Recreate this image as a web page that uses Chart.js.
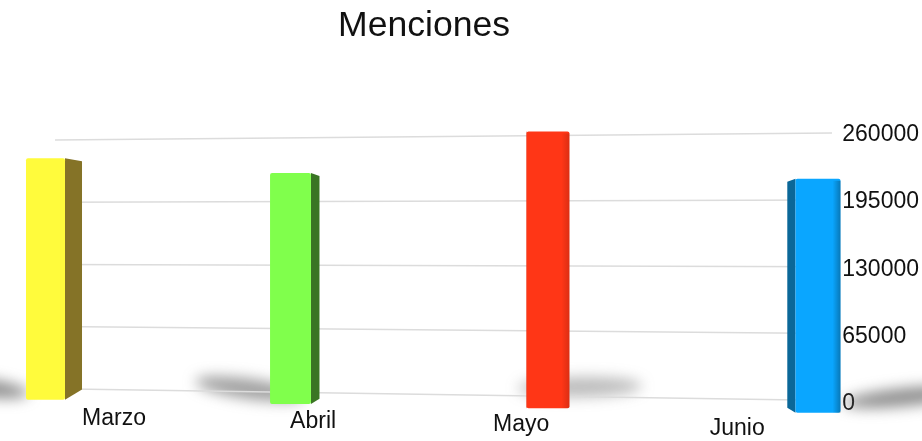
<!DOCTYPE html>
<html>
<head>
<meta charset="utf-8">
<title>Menciones</title>
<script src="https://cdn.jsdelivr.net/npm/chart.js@4"></script>
<style>
  html, body { margin: 0; padding: 0; background: #fff; }
  canvas { display: block; }
</style>
</head>
<body>
<canvas id="menciones-chart" width="922" height="441"></canvas>
<script>
const title = "Menciones";
const months = ["Marzo", "Abril", "Mayo", "Junio"];
const mentions = [240000, 224000, 262000, 216000];
const yTicks = [0, 65000, 130000, 195000, 260000];
const frontColors = ["#fffb3c", "#80ff4c", "#ff3616", "#0aa6ff"];
const sideColors = ["#857327", "#3a7524", "#c22a0f", "#0b6798"];
const edgeShade = [0, 0, 0.14, 0.28];

const fontFamily = "'Liberation Sans', Arial, sans-serif";
const textColor = "#111";
const labelNudge = [-1, -8, -6, 4];

// the original is a tilted 3D view, these fake its perspective
const wallTop = (x) => 140.5 - 0.009 * x;
const wallBottom = (x) => 388 + 0.015 * x;
const nearTop = (x) => 138.5 - 0.009 * x;
const nearBottom = (x) => 399 + 0.0168 * x;
const labelY = (x) => 416.5 + 0.0165 * x;

const valueShare = (scale, v) => (scale.bottom - scale.getPixelForValue(v)) / (scale.bottom - scale.top);

const perspective = {
  id: "perspective",
  afterDatasetsUpdate(chart) {
    const yScale = chart.scales.y;
    const xScale = chart.scales.x;
    const first = xScale.getPixelForValue(0);
    const band = xScale.getPixelForValue(1) - first;
    chart.getDatasetMeta(0).data.forEach((bar, i) => {
      const t = (bar.x - first) / band;
      const x = 45.5 + 245 * t + 6.25 * t * (t - 1);
      const share = valueShare(yScale, mentions[i]);
      bar.x = x;
      bar.width = 39 + (x - 45) * 0.0078;
      bar.base = nearBottom(x);
      bar.y = nearBottom(x) + (nearTop(x) - nearBottom(x)) * share;
    });
  },
  beforeDatasetsDraw(chart) {
    const { ctx, scales } = chart;
    const bars = chart.getDatasetMeta(0).data;

    // floor shadows
    ctx.save();
    ctx.filter = "blur(7px)";
    [
      [-15, 388, 44, 9, 0.12, 0.7],
      [250, 389, 55, 10, 0.14, 0.6],
      [580, 387, 62, 10, -0.02, 0.42],
      [905, 397, 62, 9, -0.1, 0.7],
    ].forEach(([cx, cy, rx, ry, rot, alpha]) => {
      ctx.fillStyle = `rgba(95,95,95,${alpha})`;
      ctx.beginPath();
      ctx.ellipse(cx, cy, rx, ry, rot, 0, Math.PI * 2);
      ctx.fill();
    });
    ctx.restore();

    // gridlines on the back wall
    ctx.save();
    ctx.strokeStyle = "#dcdcdc";
    ctx.lineWidth = 1.5;
    yTicks.forEach((v) => {
      const share = valueShare(scales.y, v);
      const lineY = (x) => wallBottom(x) + (wallTop(x) - wallBottom(x)) * share;
      ctx.beginPath();
      ctx.moveTo(55, lineY(55));
      ctx.lineTo(832, lineY(832));
      ctx.stroke();
    });
    ctx.restore();

    // side faces of the bars
    ctx.save();
    bars.forEach((bar, i) => {
      const left = bar.x - bar.width / 2;
      const right = bar.x + bar.width / 2;
      const depth = (558 - (bar.x < 558 ? right : left)) * 0.0345;
      const edge = depth >= 0 ? right : left;
      const far = edge + depth;
      const rise = Math.abs(depth) * 0.6;
      const drop = Math.min(3, Math.abs(depth));
      ctx.fillStyle = sideColors[i];
      ctx.beginPath();
      ctx.moveTo(edge, bar.y);
      ctx.lineTo(far, bar.y + drop);
      ctx.lineTo(far, bar.base - rise);
      ctx.lineTo(edge, bar.base);
      ctx.closePath();
      ctx.fill();
    });
    ctx.restore();
  },
  afterDatasetsDraw(chart) {
    // darker rim on the right of the front faces
    const { ctx } = chart;
    ctx.save();
    chart.getDatasetMeta(0).data.forEach((bar, i) => {
      const right = bar.x + bar.width / 2;
      const rim = ctx.createLinearGradient(right - 8, 0, right, 0);
      rim.addColorStop(0, "rgba(0,0,0,0)");
      rim.addColorStop(1, `rgba(0,0,0,${edgeShade[i]})`);
      ctx.fillStyle = rim;
      ctx.fillRect(right - 8, bar.y + 2, 8, bar.base - bar.y - 2);
    });
    ctx.restore();
  },
  afterDraw(chart) {
    // month labels follow the floor slope, the axis cannot do that
    const { ctx, scales } = chart;
    ctx.save();
    ctx.font = `23px ${fontFamily}`;
    ctx.fillStyle = textColor;
    ctx.textAlign = "center";
    ctx.textBaseline = "middle";
    months.forEach((month, i) => {
      const x = scales.x.getPixelForValue(i) + labelNudge[i];
      ctx.fillText(month, x, labelY(x));
    });
    ctx.restore();
  },
};

new Chart(document.getElementById("menciones-chart"), {
  type: "bar",
  plugins: [perspective],
  data: {
    labels: months,
    datasets: [
      {
        label: title,
        data: mentions,
        backgroundColor: frontColors,
        borderWidth: 0,
        borderRadius: 2,
        borderSkipped: false,
        clip: false,
      },
    ],
  },
  options: {
    responsive: false,
    animation: false,
    layout: { padding: { left: 12, right: -3, bottom: 37 } },
    scales: {
      x: { display: false },
      y: {
        position: "right",
        min: 0,
        max: 260000,
        afterBuildTicks: (axis) => {
          axis.ticks = yTicks.map((value) => ({ value }));
        },
        grid: { display: false, drawTicks: false },
        border: { display: false },
        ticks: {
          padding: 6,
          color: textColor,
          font: { family: fontFamily, size: 23 },
          callback: (value) => String(value),
        },
      },
    },
    plugins: {
      legend: { display: false },
      tooltip: { enabled: false },
      title: {
        display: true,
        text: title,
        fullSize: false,
        color: textColor,
        font: { family: fontFamily, size: 35.6, weight: "normal" },
        padding: { top: 5, bottom: 87 },
      },
    },
  },
});
</script>
</body>
</html>
